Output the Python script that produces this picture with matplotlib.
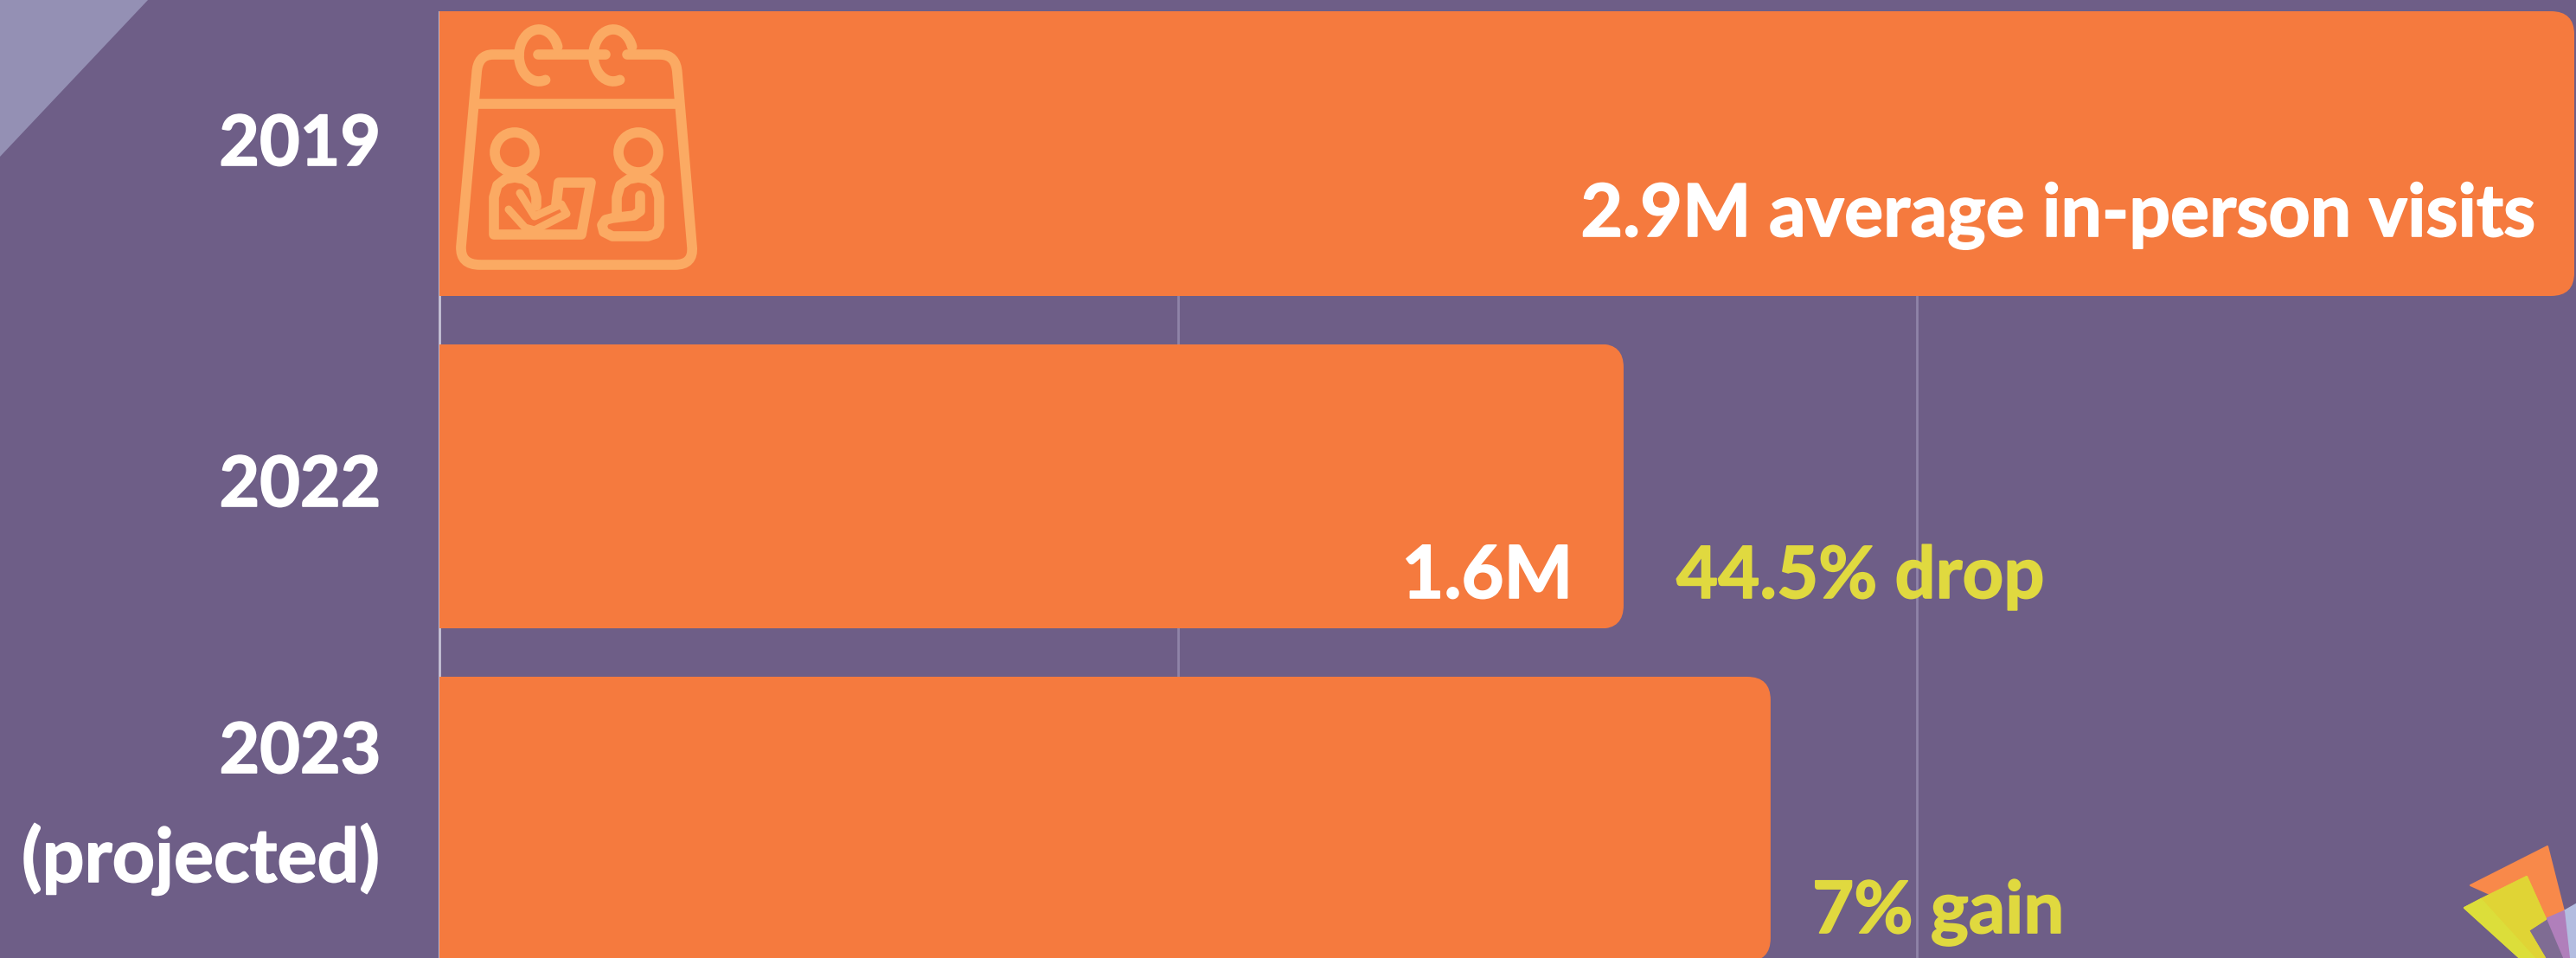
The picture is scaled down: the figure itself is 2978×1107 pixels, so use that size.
import matplotlib
matplotlib.use("Agg")
import matplotlib.pyplot as plt
import matplotlib.patheffects as pe
from matplotlib.path import Path
from matplotlib.patches import Polygon, PathPatch, Arc, Ellipse

# ---- data ----
years = ["2019", "2022", "2023"]
visits_m = [2.89, 1.603, 1.802]
grid_ticks = [0, 1, 2]
year_labels = ["2019", "2022", "2023", "(projected)"]
value_labels = ["2.9M average in-person visits", "1.6M"]
change_labels = ["44.5% drop", "7% gain"]

BG = "#6E5E87"
ORANGE = "#F57A3E"
ICON = "#FBAA63"
YELLOW = "#E0D93F"
W, H = 2978, 1107
FONT = "Lato"

fig = plt.figure(figsize=(W / 100, H / 100), dpi=100, facecolor=BG)

# main axes: axes top sits at the top of the first bar
top_px = 13
ax = fig.add_axes([0, 0, 1, 1 - top_px / H], facecolor="none")
PX_PER_UNIT = 854.0
PX_PER_BAR = 384.5
ax.set_xlim(-508 / PX_PER_UNIT, (W - 508) / PX_PER_UNIT)
ax.set_ylim((H - 177.5) / PX_PER_BAR, (top_px - 177.5) / PX_PER_BAR)
ax.set_xticks(grid_ticks)
ax.set_yticks([])
ax.tick_params(length=0, labelbottom=False)
for s in ax.spines.values():
    s.set_visible(False)
ax.set_axisbelow(True)
ax.grid(axis="x", color="#8F84A8", linewidth=2.0)
ax.xaxis.get_gridlines()[0].set_color("#C6C2D6")

bars = ax.barh(range(len(years)), visits_m, height=329 / PX_PER_BAR, color=ORANGE, zorder=2)
rx, ry = 27 / PX_PER_UNIT, 27 / PX_PER_BAR
for b in bars:
    x0, y0, w, h = b.get_x(), b.get_y(), b.get_width(), b.get_height()
    x1, y1 = x0 + w, y0 + h
    verts = [(x0, y0), (x1 - rx, y0), (x1, y0), (x1, y0 + ry), (x1, y1 - ry), (x1, y1), (x1 - rx, y1), (x0, y1), (x0, y0)]
    codes = [Path.MOVETO, Path.LINETO, Path.CURVE3, Path.CURVE3, Path.LINETO, Path.CURVE3, Path.CURVE3, Path.LINETO, Path.CLOSEPOLY]
    b.set_clip_path(Path(verts, codes), ax.transData)

# overlay in pixel coordinates for text and decoration
ov = fig.add_axes([0, 0, 1, 1], facecolor="none")
ov.set_xlim(0, W)
ov.set_ylim(H, 0)
ov.axis("off")

# corner triangle
ov.add_patch(Polygon([(0, 0), (171, 0), (0, 181)], closed=True, fc="#9490B4", ec="none"))

# logo
def poly(pts, fc, z=3):
    ov.add_patch(Polygon(pts, closed=True, fc=fc, ec=fc, lw=1.5, joinstyle="round", zorder=z))

poly([(2945, 978), (2856, 1023), (2943, 1062), (2964, 1053)], "#F8894A")
poly([(2964, 1053), (2978, 1045), (2978, 1107), (2970, 1107)], "#B3BDE0")
poly([(2943, 1062), (2964, 1053), (2970, 1107), (2962, 1107)], "#B07FBB")
poly([(2923, 1075), (2943, 1062), (2962, 1107), (2942, 1107)], "#7F6C93")
poly([(2921, 1013), (2849, 1049), (2913, 1107), (2942, 1107), (2923, 1075), (2943, 1062)], "#DCD92F", 4)
poly([(2868, 1039), (2921, 1013), (2943, 1062), (2923, 1075), (2942, 1107), (2930, 1107)], "#E0D435", 5)
poly([(2849, 1049), (2868, 1039), (2930, 1107), (2913, 1107)], "#DCDE3A", 5)

# text: Lato bold, thickened slightly to reach the reference weight
def label(x, y, s, color, ha, fs):
    ov.text(x, y, s, color=color, ha=ha, va="baseline", fontsize=fs, family=FONT,
            fontweight="bold", zorder=6,
            path_effects=[pe.withStroke(linewidth=1.2, foreground=color)])

label(440, 191, year_labels[0], "white", "right", 58)
label(440, 585, year_labels[1], "white", "right", 58)
label(440, 893, year_labels[2], "white", "right", 58)
label(439, 1019, year_labels[3], "white", "right", 62)
label(2931, 273, value_labels[0], "white", "right", 60.6)
label(1818, 691, value_labels[1], "white", "right", 60.8)
label(1938, 691, change_labels[0], YELLOW, "left", 59.8)
label(2095, 1078, change_labels[1], YELLOW, "left", 60)

# calendar icon
LW = 8.4
st = dict(color=ICON, lw=LW, solid_capstyle="round", solid_joinstyle="round", zorder=3)

def rounded_body():
    v = [(600, 63), (570, 63), (552, 63), (551, 85), (533, 285), (532, 306), (555, 306),
         (780, 306), (802, 306), (800, 285), (783, 85), (782, 63), (763, 63), (725, 63)]
    c = [Path.MOVETO, Path.LINETO, Path.CURVE3, Path.CURVE3, Path.LINETO, Path.CURVE3, Path.CURVE3,
         Path.LINETO, Path.CURVE3, Path.CURVE3, Path.LINETO, Path.CURVE3, Path.CURVE3, Path.LINETO]
    return Path(v, c)

ov.add_patch(PathPatch(rounded_body(), fc="none", ec=ICON, lw=LW, capstyle="round", joinstyle="round", zorder=3))
ov.plot([622, 700], [63, 63], **st)
ov.plot([552, 781], [120, 120], **st)
for cx in (623, 709):
    ov.add_patch(Arc((cx, 64), 46, 60, theta1=75, theta2=335, ec=ICON, lw=LW, capstyle="round", zorder=3))
for cx in (595, 738):
    ov.add_patch(Ellipse((cx, 176), 46, 46, fc="none", ec=ICON, lw=LW, zorder=3))

def curve(pts, lw=LW):
    xs, ys = zip(*pts)
    ov.plot(xs, ys, **{**st, "lw": lw})

# person 1 with laptop
curve([(620, 238), (620, 228), (616, 214), (606, 207), (595, 205), (584, 207), (575, 214), (571, 228), (571, 271), (672, 271), (683, 211), (646, 211), (643, 236)])
curve([(601, 223), (618, 250), (649, 236), (655, 247), (618, 266), (607, 263), (588, 242)], lw=6.5)
# person 2
curve([(713, 250), (713, 228), (717, 214), (727, 207), (738, 205), (749, 207), (758, 214), (762, 228), (762, 262), (758, 270), (749, 273), (708, 273), (698, 268), (696, 260), (700, 254), (708, 252), (733, 249), (740, 244), (740, 226)])

fig.savefig("out.png", dpi=100, facecolor=BG)
